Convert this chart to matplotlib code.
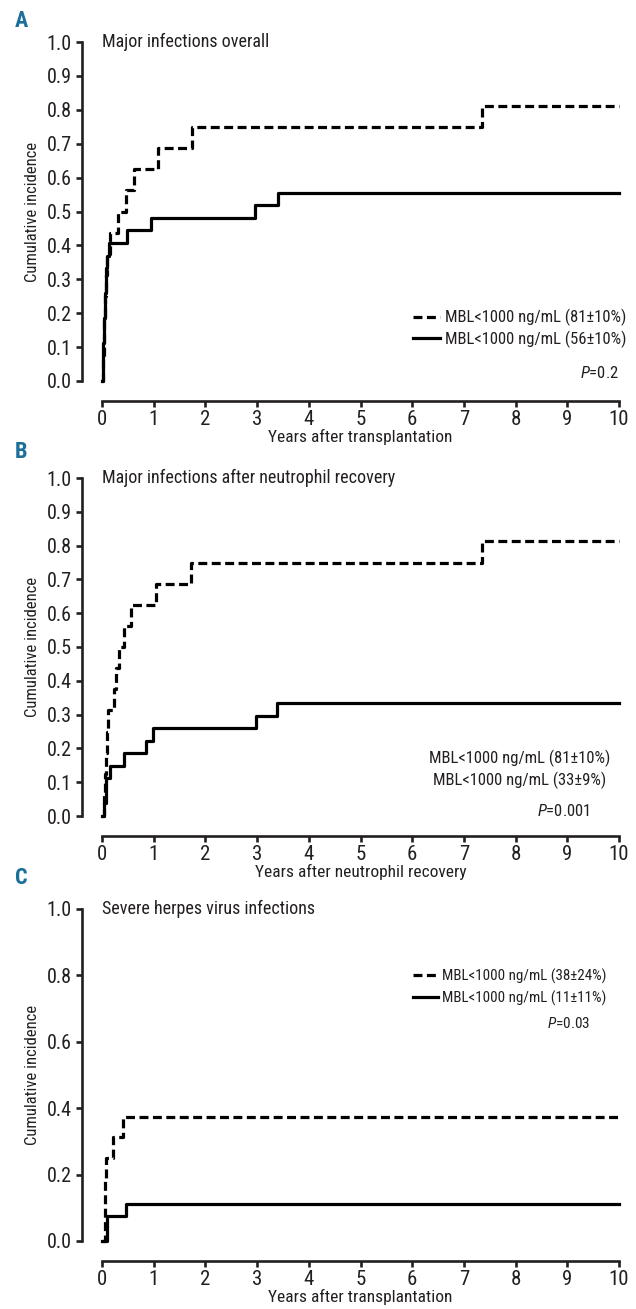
import matplotlib
matplotlib.use("Agg")
import matplotlib.pyplot as plt
from matplotlib import font_manager
from matplotlib.lines import Line2D

# pick a narrow sans if there is one
FONT = "DejaVu Sans"
for name in ["Liberation Sans Narrow", "DejaVu Sans Condensed", "Roboto Condensed"]:
    try:
        font_manager.findfont(name, fallback_to_default=False)
        FONT = name
        break
    except Exception:
        pass

plt.rcParams["font.family"] = [FONT, "DejaVu Sans"]
plt.rcParams["mathtext.fontset"] = "custom"
plt.rcParams["mathtext.it"] = FONT + ":italic"
plt.rcParams["mathtext.rm"] = FONT

INK = "#231f20"
BLUE = "#1b6f99"

# ---- data (years, cumulative incidence) ----
a_dash_t = [0, 0.02, 0.03, 0.04, 0.05, 0.07, 0.10, 0.16, 0.30, 0.46, 0.62, 1.08, 1.75, 7.35, 10]
a_dash_y = [0, 0.0625, 0.125, 0.1875, 0.25, 0.3125, 0.375, 0.4375, 0.5, 0.5625, 0.625, 0.6875, 0.75, 0.8125, 0.8125]
a_solid_t = [0, 0.01, 0.015, 0.02, 0.03, 0.04, 0.05, 0.06, 0.07, 0.08, 0.10, 0.13, 0.48, 0.94, 2.96, 3.40, 10]
a_solid_y = [0, 0.037, 0.074, 0.111, 0.148, 0.185, 0.222, 0.259, 0.296, 0.333, 0.370, 0.407, 0.444, 0.481, 0.519, 0.556, 0.556]

b_dash_t = [0, 0.03, 0.05, 0.07, 0.09, 0.12, 0.24, 0.27, 0.32, 0.43, 0.57, 1.05, 1.72, 7.35, 10]
b_dash_y = [0, 0.0625, 0.125, 0.1875, 0.25, 0.3125, 0.375, 0.4375, 0.5, 0.5625, 0.625, 0.6875, 0.75, 0.8125, 0.8125]
b_solid_t = [0, 0.04, 0.07, 0.08, 0.15, 0.43, 0.86, 0.99, 2.97, 3.38, 10]
b_solid_y = [0, 0.037, 0.074, 0.111, 0.148, 0.185, 0.222, 0.259, 0.296, 0.333, 0.333]

c_dash_t = [0, 0.05, 0.055, 0.06, 0.08, 0.22, 0.40, 10]
c_dash_y = [0, 0.0625, 0.125, 0.1875, 0.25, 0.3125, 0.375, 0.375]
c_solid_t = [0, 0.09, 0.10, 0.46, 10]
c_solid_y = [0, 0.037, 0.074, 0.111, 0.111]

x_ticks = list(range(0, 11))
y_ticks_ab = [0.0, 0.1, 0.2, 0.3, 0.4, 0.5, 0.6, 0.7, 0.8, 0.9, 1.0]
y_ticks_c = [0.0, 0.2, 0.4, 0.6, 0.8, 1.0]

W, H = 636, 1309
fig = plt.figure(figsize=(W / 100, H / 100), dpi=100)


def px_axes(left, right, top, bottom):
    return fig.add_axes([left / W, 1 - bottom / H, (right - left) / W, (bottom - top) / H])


def style(ax, yticks, xlabel):
    ax.set_xlim(0, 10)
    ax.set_ylim(0, 1)
    for s in ["top", "right"]:
        ax.spines[s].set_visible(False)
    for s in ["left", "bottom"]:
        ax.spines[s].set_position(("outward", 14.4))
        ax.spines[s].set_linewidth(1.9)
        ax.spines[s].set_color(INK)
    ax.set_xticks(x_ticks)
    ax.set_yticks(yticks)
    ax.set_yticklabels([f"{v:.1f}" for v in yticks])
    ax.tick_params(direction="out", length=4.5, width=1.9, colors=INK,
                   labelsize=14.5, pad=3)
    ax.tick_params(axis="x", labelsize=15, pad=2)
    ax.set_xlabel(xlabel, fontsize=12.5, color=INK, labelpad=0)
    ax.set_ylabel("Cumulative incidence", fontsize=12, color=INK, labelpad=5)


def curves(ax, td, yd, ts, ys):
    ax.step(td, yd, where="post", color="black", lw=2.3, dashes=(2.8, 1.4), clip_on=False)
    ax.step(ts, ys, where="post", color="black", lw=2.3, clip_on=False)


h = [Line2D([], [], color="black", lw=2.3, dashes=(2.8, 1.4)),
     Line2D([], [], color="black", lw=2.3)]

# ---- panel A ----
ax = px_axes(102, 619, 42, 381)
curves(ax, a_dash_t, a_dash_y, a_solid_t, a_solid_y)
style(ax, y_ticks_ab, "Years after transplantation")
ax.text(0.0, 1.0, "Major infections overall", transform=ax.transAxes,
        fontsize=13, color=INK, va="center", ha="left")
ax.legend(h, ["MBL<1000 ng/mL (81\u00b110%)", "MBL<1000 ng/mL (56\u00b110%)"],
          loc="center right", bbox_to_anchor=(1.03, 0.155), frameon=False,
          fontsize=12, handlelength=1.6, handletextpad=0.3, labelspacing=0.25,
          labelcolor=INK, borderpad=0)
ax.text(1.0, 0.025, "$\\it{P}$=0.2", transform=ax.transAxes, fontsize=12,
        color=INK, ha="right", va="center")
fig.text(15 / W, 1 - 21 / H, "A", fontsize=16, fontweight="bold", color=BLUE, va="center")

# ---- panel B ----
ax = px_axes(102, 619, 478, 816)
curves(ax, b_dash_t, b_dash_y, b_solid_t, b_solid_y)
style(ax, y_ticks_ab, "Years after neutrophil recovery")
ax.text(0.0, 1.0, "Major infections after neutrophil recovery", transform=ax.transAxes,
        fontsize=13, color=INK, va="center", ha="left")
ax.text(0.807, 0.17, "MBL<1000 ng/mL (81\u00b110%)", transform=ax.transAxes,
        fontsize=12, color=INK, ha="center", va="center")
ax.text(0.807, 0.105, "MBL<1000 ng/mL (33\u00b19%)", transform=ax.transAxes,
        fontsize=12, color=INK, ha="center", va="center")
ax.text(0.945, 0.015, "$\\it{P}$=0.001", transform=ax.transAxes, fontsize=12,
        color=INK, ha="right", va="center")
fig.text(15 / W, 1 - 452 / H, "B", fontsize=16, fontweight="bold", color=BLUE, va="center")

# ---- panel C ----
ax = px_axes(102, 619, 909, 1241)
curves(ax, c_dash_t, c_dash_y, c_solid_t, c_solid_y)
style(ax, y_ticks_c, "Years after transplantation")
ax.text(0.0, 1.0, "Severe herpes virus infections", transform=ax.transAxes,
        fontsize=13, color=INK, va="center", ha="left")
ax.legend(h, ["MBL<1000 ng/mL (38\u00b124%)", "MBL<1000 ng/mL (11\u00b111%)"],
          loc="center right", bbox_to_anchor=(0.99, 0.765), frameon=False,
          fontsize=10.8, handlelength=1.7, handletextpad=0.25, labelspacing=0.45,
          labelcolor=INK, borderpad=0)
ax.text(0.945, 0.655, "$\\it{P}$=0.03", transform=ax.transAxes, fontsize=11,
        color=INK, ha="right", va="center")
fig.text(15 / W, 1 - 878 / H, "C", fontsize=16, fontweight="bold", color=BLUE, va="center")

fig.savefig("out.png", dpi=100)
